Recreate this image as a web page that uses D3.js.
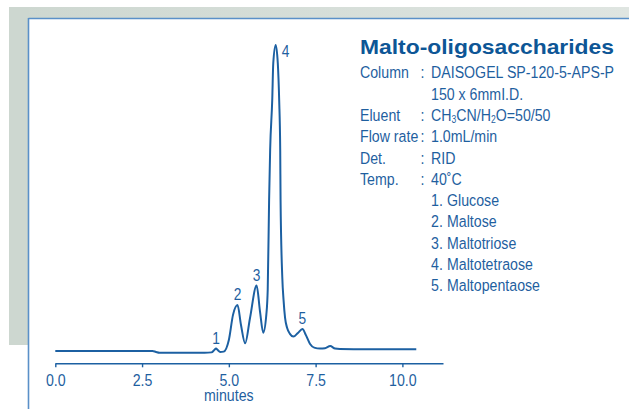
<!DOCTYPE html>
<html>
<head>
<meta charset="utf-8">
<script src="https://cdn.jsdelivr.net/npm/d3@7"></script>
<style>
  body { margin: 0; background: #fff; }
  text { font-family: "Liberation Sans", Arial, sans-serif; }
</style>
</head>
<body>
<svg id="chart" width="629" height="409"></svg>
<script>
// chromatogram trace (minutes, relative signal)
var times   = [0, 2.80, 2.90, 3.00, 4.30, 4.50, 4.58, 4.63, 4.68, 4.75, 4.85, 5.00, 5.12, 5.25, 5.35, 5.47,
               5.61, 5.80, 5.90, 5.99, 6.08, 6.12, 6.16, 6.19, 6.25, 6.28, 6.35, 6.41, 6.45, 6.48, 6.49, 6.54,
               6.576, 6.62, 6.68, 6.76, 6.86, 6.99, 7.12, 7.22, 7.34, 7.46, 7.63, 7.77, 7.92, 8.06, 8.20, 9.00, 10.40];
var signal  = [0, 0, -0.3, -0.55, -0.55, -0.45, 0.3, 0.8, 0.3, -0.3, -0.2, 3.6, 11.8, 15.0, 8.5, 2.5,
               10.8, 21.4, 12.7, 6.0, 11.9, 20.0, 49.4, 65.7, 82.0, 94.1, 100, 94.1, 82.0, 65.7, 49.4, 24.0,
               16.7, 10.8, 7.5, 5.6, 4.7, 5.9, 7.2, 5.2, 2.3, 1.1, 0.8, 0.9, 1.6, 0.8, 0.65, 0.55, 0.55];

var peakLabels = ["1", "2", "3", "4", "5"];
var peakTimes  = [4.63, 5.25, 5.80, 6.35, 7.12];
var peakValues = [0.8, 15.0, 21.4, 100, 7.2];

var xTicks = [0, 2.5, 5, 7.5, 10];

var title = "Malto-oligosaccharides";
var condLabels = ["Column", "", "Eluent", "Flow rate", "Det.", "Temp."];
var condValues = ["DAISOGEL SP-120-5-APS-P", "150 x 6mmI.D.", "CH3CN/H2O=50/50", "1.0mL/min", "RID", "40\u02daC"];
var compounds  = ["Glucose", "Maltose", "Maltotriose", "Maltotetraose", "Maltopentaose"];

var blue = "#1c60a2", textBlue = "#1f5f9f";
var narrow = 0.86; // no narrow font installed, squeeze Liberation Sans instead
var fs = 16.5;

var svg = d3.select("#chart");

function label(parent, x, y, str, size) {
  return parent.append("text")
    .attr("transform", "translate(" + x + "," + y + ") scale(" + narrow + ",1)")
    .style("font-size", (size || fs) + "px")
    .text(str);
}

// background frame
var defs = svg.append("defs");
var grad = defs.append("linearGradient").attr("id", "topgrad");
grad.append("stop").attr("offset", "0%").attr("stop-color", "#cdd7d0");
grad.append("stop").attr("offset", "100%").attr("stop-color", "#dfe5e1");

svg.append("rect").attr("x", 9).attr("y", 7).attr("width", 620).attr("height", 12).attr("fill", "url(#topgrad)");
svg.append("rect").attr("x", 9).attr("y", 7).attr("width", 20).attr("height", 338).attr("fill", "#cdd7d0");
svg.append("rect").attr("x", 28).attr("y", 18).attr("width", 601).attr("height", 391).attr("fill", "#fff");
svg.append("line").attr("x1", 28.5).attr("x2", 629).attr("y1", 18.5).attr("y2", 18.5)
  .attr("stroke", "#5a90c8").attr("stroke-width", 1.6);
svg.append("line").attr("x1", 28.5).attr("x2", 28.5).attr("y1", 18).attr("y2", 409)
  .attr("stroke", "#5a90c8").attr("stroke-width", 1.6);

// scales
var x = d3.scaleLinear().domain([0, 11.17]).range([55.3, 443]);
var y = d3.scaleLinear().domain([0, 100]).range([351, 45]);

// axis
var axis = svg.append("g")
  .attr("transform", "translate(0,363.3)")
  .call(d3.axisBottom(x).tickValues(xTicks).tickFormat(d3.format(".1f"))
    .tickSize(4).tickSizeOuter(0).tickPadding(7));
axis.select(".domain").attr("stroke", blue).attr("stroke-width", 1.6);
axis.selectAll(".tick line").attr("stroke", blue).attr("stroke-width", 1.4);
axis.selectAll(".tick text").attr("fill", textBlue)
  .attr("font-family", null)
  .style("font-size", fs + "px")
  .attr("transform", "scale(" + narrow + ",1)");

label(svg, x(5), 401, "minutes").attr("text-anchor", "middle").attr("fill", textBlue);

// trace
var pts = times.map(function(t, i) { return [t, signal[i]]; });
var line = d3.line()
  .x(function(d) { return x(d[0]); })
  .y(function(d) { return y(d[1]); })
  .curve(d3.curveMonotoneX);

svg.append("path").datum(pts)
  .attr("d", line)
  .attr("fill", "none")
  .attr("stroke", blue)
  .attr("stroke-width", 2)
  .attr("stroke-linejoin", "round");

// peak numbers
peakLabels.forEach(function(p, i) {
  var px = i === 3 ? x(peakTimes[i]) + 6 : x(peakTimes[i]);
  var py = i === 3 ? y(peakValues[i]) + 12 : y(peakValues[i]) - 5;
  label(svg, px, py, p, 16)
    .attr("text-anchor", i === 3 ? "start" : "middle")
    .attr("fill", textBlue);
});

// conditions block
svg.append("text").attr("x", 360).attr("y", 54.3)
  .attr("fill", "#0d5696")
  .style("font-weight", "bold").style("font-size", "21px")
  .attr("textLength", 254).attr("lengthAdjust", "spacingAndGlyphs")
  .text(title);

var lineH = 21.3, top0 = 78.3;
var info = svg.append("g").attr("fill", textBlue);

condLabels.forEach(function(lab, i) {
  var yy = top0 + i * lineH;
  if (lab) {
    label(info, 360, yy, lab);
    label(info, 420.5, yy, ":");
  }
  if (condValues[i].indexOf("CH3CN") === 0) {
    var t = label(info, 431, yy, "");
    t.append("tspan").text("CH");
    t.append("tspan").attr("dy", 2).style("font-size", "10px").text("3");
    t.append("tspan").attr("dy", -2).text("CN/H");
    t.append("tspan").attr("dy", 2).style("font-size", "10px").text("2");
    t.append("tspan").attr("dy", -2).text("O=50/50");
  } else {
    label(info, 431, yy, condValues[i]);
  }
});

compounds.forEach(function(c, i) {
  var yy = top0 + (condLabels.length + i) * lineH;
  label(info, 431, yy, (i + 1) + ".");
  label(info, 447, yy, c);
});
</script>
</body>
</html>
